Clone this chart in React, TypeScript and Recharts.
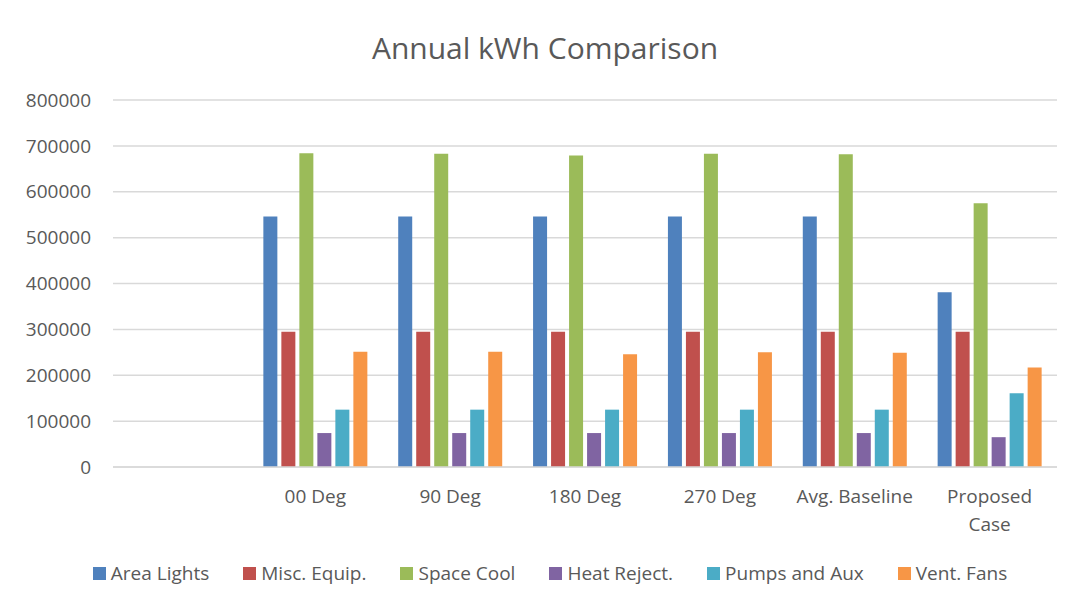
import { BarChart, Bar, XAxis, YAxis, CartesianGrid, Legend } from "recharts";

const categories = ["", "00 Deg", "90 Deg", "180 Deg", "270 Deg", "Avg. Baseline", "Proposed Case"];
const tickLines = [[""], ["00 Deg"], ["90 Deg"], ["180 Deg"], ["270 Deg"], ["Avg. Baseline"], ["Proposed", "Case"]];

const areaLights = [null, 546000, 546000, 546000, 546000, 546000, 381000];
const miscEquip = [null, 295000, 295000, 295000, 295000, 295000, 295000];
const spaceCool = [null, 684000, 683000, 679000, 683000, 682000, 575000];
const heatReject = [null, 74000, 74000, 74000, 74000, 74000, 65000];
const pumpsAux = [null, 125000, 125000, 125000, 125000, 125000, 161000];
const ventFans = [null, 251000, 251000, 246000, 250000, 249000, 217000];

const yTicks = [0, 100000, 200000, 300000, 400000, 500000, 600000, 700000, 800000];

const series = [
  { key: "areaLights", name: "Area Lights", color: "#4F81BD", values: areaLights },
  { key: "miscEquip", name: "Misc. Equip.", color: "#C0504D", values: miscEquip },
  { key: "spaceCool", name: "Space Cool", color: "#9BBB59", values: spaceCool },
  { key: "heatReject", name: "Heat Reject.", color: "#8064A2", values: heatReject },
  { key: "pumpsAux", name: "Pumps and Aux", color: "#4BACC6", values: pumpsAux },
  { key: "ventFans", name: "Vent. Fans", color: "#F79646", values: ventFans },
];

const data = categories.map((name, i) => {
  const row: Record<string, string | number | null> = { name };
  series.forEach((s) => {
    row[s.key] = s.values[i];
  });
  return row;
});

const FONT = "'Open Sans', 'Noto Sans', sans-serif";
const TEXT = "#595959";

function XTick({ x, y, index }: { x?: number; y?: number; index?: number }) {
  const lines = tickLines[index ?? 0] || [""];
  return (
    <text x={x} y={(y ?? 0) + 28} textAnchor="middle" fill={TEXT} fontSize={19} fontFamily={FONT}>
      {lines.map((l, i) => (
        <tspan key={i} x={x} dy={i === 0 ? 0 : 28}>
          {l}
        </tspan>
      ))}
    </text>
  );
}

function LegendContent() {
  return (
    <div
      style={{
        display: "flex",
        justifyContent: "center",
        gap: 34,
        fontFamily: FONT,
        fontSize: 19,
        color: TEXT,
        lineHeight: "24px",
      }}
    >
      {series.map((s) => (
        <div key={s.key} style={{ display: "flex", alignItems: "center" }}>
          <span style={{ width: 13, height: 13, background: s.color, marginRight: 5, display: "inline-block" }} />
          <span>{s.name}</span>
        </div>
      ))}
    </div>
  );
}

export default function App() {
  return (
    <div style={{ position: "relative", width: 1065, height: 597 }}>
      <div
        style={{
          position: "absolute",
          left: -14,
          top: -21,
          fontFamily: FONT,
          fontSize: 22,
          lineHeight: "22px",
          color: "#000",
          whiteSpace: "nowrap",
        }}
      >
        of 3322 kWh.
      </div>
      <div style={{ position: "absolute", left: -2, top: -1, width: 2, height: 600, background: "#d9d9d9" }} />
      <div
        style={{
          position: "absolute",
          left: 0,
          top: 19,
          width: 1074,
          textAlign: "center",
          fontFamily: FONT,
          fontSize: 30,
          color: TEXT,
          lineHeight: "42px",
          zIndex: 1,
        }}
      >
        Annual kWh Comparison
      </div>
      <BarChart
        width={1065}
        height={597}
        data={data}
        margin={{ top: 92, right: 16, bottom: 78, left: 0 }}
        barCategoryGap={15.5}
        barGap={4}
      >
        <CartesianGrid vertical={false} stroke="#d9d9d9" strokeWidth={1.5} />
        <XAxis
          dataKey="name"
          height={60}
          axisLine={{ stroke: "#d9d9d9", strokeWidth: 1.5 }}
          tickLine={false}
          interval={0}
          tick={<XTick />}
        />
        <YAxis
          width={105}
          domain={[0, 800000]}
          ticks={yTicks}
          axisLine={false}
          tickLine={false}
          tickMargin={16}
          tick={{ fill: TEXT, fontSize: 19, fontFamily: FONT }}
        />
        <Legend
          verticalAlign="middle"
          align="center"
          layout="horizontal"
          wrapperStyle={{ top: 553, left: 0, width: 1084 }}
          content={<LegendContent />}
        />
        {series.map((s) => (
          <Bar key={s.key} dataKey={s.key} name={s.name} fill={s.color} isAnimationActive={false} />
        ))}
      </BarChart>
    </div>
  );
}
